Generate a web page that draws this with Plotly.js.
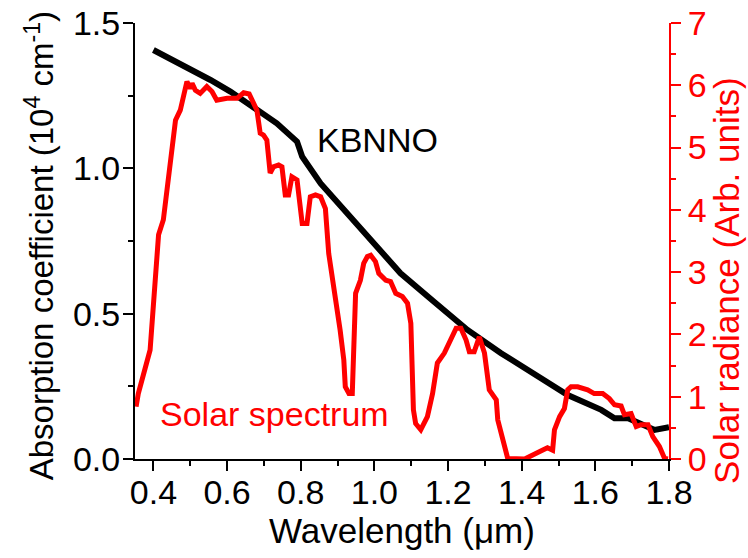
<!DOCTYPE html>
<html>
<head>
<meta charset="utf-8">
<script src="https://cdn.plot.ly/plotly-3.0.1.min.js"></script>
<style>html,body{margin:0;padding:0;background:#fff;}#chart{width:748px;height:558px;}</style>
</head>
<body>
<div id="chart"></div>
<script>
// KBNNO absorption coefficient (10^4 cm^-1) vs wavelength (um)
const kbnnoWavelength = [0.400, 0.491, 0.555, 0.609, 0.672, 0.735, 0.790, 0.795, 0.804, 0.854, 0.926, 0.990, 1.071, 1.162, 1.253, 1.344, 1.435, 1.525, 1.616, 1.652, 1.689, 1.724, 1.761, 1.800];
const kbnnoAbsorption = [1.407, 1.349, 1.304, 1.264, 1.212, 1.155, 1.092, 1.075, 1.040, 0.948, 0.845, 0.753, 0.639, 0.541, 0.444, 0.364, 0.289, 0.220, 0.169, 0.140, 0.140, 0.122, 0.100, 0.109];

// Solar spectrum (arb. units) vs wavelength (um)
const solarWavelength = [0.353, 0.359, 0.391, 0.405, 0.414, 0.427, 0.446, 0.460, 0.473, 0.482, 0.491, 0.500, 0.505, 0.514, 0.527, 0.545, 0.559, 0.572, 0.600, 0.627, 0.645, 0.660, 0.667, 0.681, 0.690, 0.699, 0.708, 0.717, 0.726, 0.740, 0.749, 0.758, 0.767, 0.776, 0.790, 0.804, 0.817, 0.826, 0.840, 0.854, 0.867, 0.876, 0.907, 0.917, 0.921, 0.931, 0.940, 0.944, 0.949, 0.962, 0.971, 0.981, 0.990, 1.003, 1.012, 1.031, 1.044, 1.058, 1.076, 1.090, 1.099, 1.106, 1.112, 1.126, 1.144, 1.158, 1.171, 1.190, 1.208, 1.222, 1.235, 1.249, 1.258, 1.271, 1.285, 1.299, 1.312, 1.331, 1.335, 1.362, 1.408, 1.426, 1.444, 1.456, 1.470, 1.484, 1.489, 1.503, 1.516, 1.525, 1.534, 1.552, 1.579, 1.597, 1.620, 1.638, 1.652, 1.670, 1.679, 1.697, 1.711, 1.724, 1.743, 1.756, 1.774, 1.788, 1.797];
const solarRadiance = [0.84, 1.05, 1.75, 2.93, 3.60, 3.84, 4.75, 5.44, 5.60, 5.87, 6.06, 5.95, 6.03, 5.92, 5.87, 5.98, 5.90, 5.76, 5.79, 5.79, 5.88, 5.86, 5.76, 5.60, 5.23, 5.20, 5.12, 4.59, 4.69, 4.72, 4.69, 4.24, 4.24, 4.53, 4.48, 3.78, 3.78, 4.21, 4.24, 4.21, 4.02, 3.30, 2.07, 1.59, 1.16, 1.05, 1.05, 1.80, 2.66, 2.87, 3.14, 3.25, 3.27, 3.17, 2.98, 2.87, 2.85, 2.66, 2.61, 2.50, 2.18, 0.79, 0.57, 0.47, 0.68, 1.05, 1.54, 1.70, 1.91, 2.10, 2.10, 1.91, 1.72, 1.72, 1.96, 1.70, 1.11, 0.95, 0.63, 0.01, 0.00, 0.06, 0.10, 0.14, 0.18, 0.14, 0.47, 0.68, 0.81, 1.11, 1.16, 1.16, 1.11, 1.05, 1.05, 0.97, 0.87, 0.85, 0.71, 0.73, 0.52, 0.55, 0.55, 0.36, 0.20, 0.01, 0.00];

const xTickVals = [0.4, 0.6, 0.8, 1.0, 1.2, 1.4, 1.6, 1.8];
const xTickText = ['0.4', '0.6', '0.8', '1.0', '1.2', '1.4', '1.6', '1.8'];
const yTickVals = [0.0, 0.5, 1.0, 1.5];
const yTickText = ['0.0', '0.5', '1.0', '1.5'];
const y2TickVals = [0, 1, 2, 3, 4, 5, 6, 7];

const FONT = 'Liberation Sans, Arial, Helvetica, sans-serif';
const RED = '#ff0000';

const traces = [
  {
    x: solarWavelength, y: solarRadiance, xaxis: 'x', yaxis: 'y2',
    mode: 'lines', line: {color: RED, width: 5}, hoverinfo: 'skip', showlegend: false
  },
  {
    x: kbnnoWavelength, y: kbnnoAbsorption, xaxis: 'x', yaxis: 'y',
    mode: 'lines', line: {color: '#000000', width: 6}, hoverinfo: 'skip', showlegend: false
  }
];

const layout = {
  width: 748, height: 558,
  margin: {l: 135, r: 79, t: 23, b: 99},
  paper_bgcolor: '#ffffff', plot_bgcolor: '#ffffff',
  font: {family: FONT, size: 34, color: '#000000'},
  showlegend: false,
  xaxis: {
    range: [0.35, 1.8], showgrid: false, zeroline: false,
    showline: true, linecolor: '#000000', linewidth: 2,
    ticks: 'outside', ticklen: 10, tickwidth: 2, tickcolor: '#000000',
    tickvals: xTickVals, ticktext: xTickText, ticklabelstandoff: -8,
    minor: {ticks: 'outside', ticklen: 5, tickwidth: 2, tickcolor: '#000000', dtick: 0.1, tick0: 0.4},
    tickfont: {family: FONT, size: 34, color: '#000000'},
    title: {text: 'Wavelength (\u03bcm)', font: {family: FONT, size: 35, color: '#000000'}, standoff: 8},
    anchor: 'y'
  },
  xaxis2: {
    range: [0.35, 1.8], overlaying: 'x', side: 'top', anchor: 'y',
    showgrid: false, zeroline: false,
    showline: true, linecolor: '#000000', linewidth: 2,
    ticks: 'inside', ticklen: 10, tickwidth: 2, tickcolor: '#000000',
    tickvals: xTickVals, showticklabels: false,
    minor: {ticks: 'inside', ticklen: 5, tickwidth: 2, tickcolor: '#000000', dtick: 0.1, tick0: 0.4}
  },
  yaxis: {
    range: [0, 1.5], showgrid: false, zeroline: false,
    showline: true, linecolor: '#000000', linewidth: 2,
    ticks: 'outside', ticklen: 10, tickwidth: 2, tickcolor: '#000000',
    tickvals: yTickVals, ticktext: yTickText, ticklabelstandoff: -4,
    minor: {ticks: 'outside', ticklen: 5, tickwidth: 2, tickcolor: '#000000', dtick: 0.25, tick0: 0},
    tickfont: {family: FONT, size: 34, color: '#000000'},
    anchor: 'x'
  },
  yaxis2: {
    range: [0, 7], overlaying: 'y', side: 'right', anchor: 'x',
    showgrid: false, zeroline: false,
    showline: true, linecolor: RED, linewidth: 2,
    ticks: 'outside', ticklen: 10, tickwidth: 2, tickcolor: RED,
    tickvals: y2TickVals,
    minor: {ticks: 'outside', ticklen: 5, tickwidth: 2, tickcolor: RED, dtick: 0.5, tick0: 0},
    tickfont: {family: FONT, size: 34, color: RED}
  },
  annotations: [
    {text: 'Absorption coefficient (10<sup>4</sup> cm<sup>-1</sup>)', xref: 'paper', yref: 'paper',
     x: -0.178, y: 0.49, xanchor: 'center', yanchor: 'middle', textangle: -90, showarrow: false,
     font: {family: FONT, size: 33, color: '#000000'}},
    {text: 'Solar radiance (Arb. units)', xref: 'paper', yref: 'paper',
     x: 1.108, y: 0.41, xanchor: 'center', yanchor: 'middle', textangle: -90, showarrow: false,
     font: {family: FONT, size: 35, color: RED}},
    {text: 'KBNNO', xref: 'x', yref: 'y', x: 0.84, y: 1.097, xanchor: 'left', yanchor: 'middle', showarrow: false,
     font: {family: FONT, size: 34, color: '#000000'}},
    {text: 'Solar spectrum', xref: 'x', yref: 'y', x: 0.413, y: 0.155, xanchor: 'left', yanchor: 'middle', showarrow: false,
     font: {family: FONT, size: 34, color: RED}}
  ]
};

Plotly.newPlot('chart', traces, layout, {displayModeBar: false, staticPlot: true});
</script>
</body>
</html>
